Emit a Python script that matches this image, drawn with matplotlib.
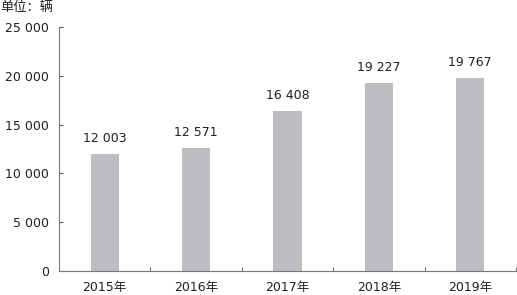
import matplotlib
matplotlib.use("Agg")
import matplotlib.pyplot as plt

plt.rcParams['font.family'] = ['DejaVu Sans', 'Noto Sans CJK SC']

categories = ["2015年", "2016年", "2017年", "2018年", "2019年"]
values = [12003, 12571, 16408, 19227, 19767]
yticks = [0, 5000, 10000, 15000, 20000, 25000]

def fmt(v):
    return f"{v:,}".replace(",", " ")

fig = plt.figure(figsize=(5.17, 2.95), dpi=100)
ax = fig.add_axes([59/517, 24/295, (516-59)/517, (271-27)/295])

x = list(range(len(categories)))
ax.bar(x, values, width=0.31, color="#bcbdc0")
for xi, v in zip(x, values):
    ax.text(xi, v + 950, fmt(v), ha="center", va="bottom", fontsize=9, color="#231f20")

ax.set_xlim(-0.5, len(categories) - 0.5)
ax.set_ylim(0, 25000)
ax.set_yticks(yticks)
ax.set_yticklabels([fmt(t) for t in yticks], fontsize=9, color="#231f20")
ax.set_xticks(x)
ax.set_xticklabels(categories, fontsize=9, color="#231f20",
                   family=['DejaVu Sans', 'Noto Sans CJK SC'])
ax.tick_params(axis='x', length=0, pad=7)
ax.set_xticks([i + 0.5 for i in range(len(categories))], minor=True)
ax.tick_params(axis='x', which='minor', direction='in', length=3, color="#555555")
ax.tick_params(axis='y', direction='in', length=3, color="#555555", pad=7)

for s in ['top', 'right']:
    ax.spines[s].set_visible(False)
for s in ['left', 'bottom']:
    ax.spines[s].set_color("#777777")
    ax.spines[s].set_linewidth(0.8)

fig.text(0.0, 1 - 8/295, "单位：辆", ha="left", va="center", fontsize=9.5,
         color="#231f20", family=['Noto Sans CJK SC', 'DejaVu Sans'])

fig.savefig("out.png", dpi=100)
